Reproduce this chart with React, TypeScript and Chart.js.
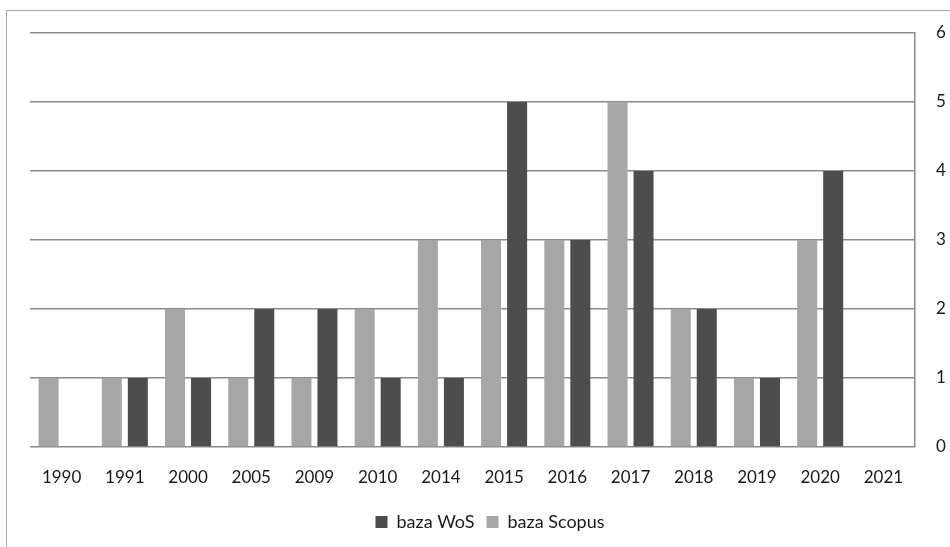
import React, { useEffect, useRef } from "react";
import { Chart, registerables } from "chart.js";

Chart.register(...registerables);

const years = ["1990", "1991", "2000", "2005", "2009", "2010", "2014", "2015", "2016", "2017", "2018", "2019", "2020", "2021"];
const scopus = [1, 1, 2, 1, 1, 2, 3, 3, 3, 5, 2, 1, 3, 0];
const wos = [0, 1, 1, 2, 2, 1, 1, 5, 3, 4, 2, 1, 4, 0];
const yTicks = [0, 1, 2, 3, 4, 5, 6];

const FONT = "Lato, 'Open Sans', sans-serif";
const TEXT = "#1a1a1a";

export default function App() {
  const canvasRef = useRef<HTMLCanvasElement | null>(null);

  useEffect(() => {
    document.body.style.margin = "0";
    const canvas = canvasRef.current;
    if (!canvas) return;
    const chart = new Chart(canvas, {
      type: "bar",
      data: {
        labels: years,
        datasets: [
          {
            label: "baza Scopus",
            data: scopus,
            backgroundColor: "#a6a6a6",
            categoryPercentage: 0.823,
            barPercentage: 0.77,
          },
          {
            label: "baza WoS",
            data: wos,
            backgroundColor: "#4d4d4d",
            categoryPercentage: 0.823,
            barPercentage: 0.77,
          },
        ],
      },
      options: {
        animation: false,
        responsive: false,
        maintainAspectRatio: false,
        layout: { padding: { left: 30, top: 33, right: 0, bottom: 6 } },
        plugins: {
          tooltip: { enabled: false },
          legend: {
            position: "bottom",
            reverse: true,
            labels: {
              boxWidth: 12,
              boxHeight: 12,
              padding: 12,
              color: TEXT,
              font: { family: FONT, size: 18 },
            },
          },
        },
        scales: {
          x: {
            grid: { display: false, drawTicks: false },
            border: { display: false },
            ticks: { padding: 20, color: TEXT, font: { family: FONT, size: 17 }, maxRotation: 0 },
            afterFit: (s: any) => {
              s.height = 54;
            },
          },
          y: {
            position: "right",
            min: 0,
            max: 6,
            afterBuildTicks: (s: any) => {
              s.ticks = yTicks.map((v) => ({ value: v }));
            },
            grid: { color: "#8a8a8a", lineWidth: 1.5, drawTicks: false },
            border: { display: true, color: "#8a8a8a", width: 1.5 },
            ticks: { padding: 21, color: TEXT, font: { family: FONT, size: 17 } },
            afterFit: (s: any) => {
              s.width = 35;
            },
          },
        },
      },
    });
    return () => chart.destroy();
  }, []);

  return (
    <div style={{ position: "relative", width: 950, height: 547, overflow: "hidden", background: "#fff" }}>
      <div
        style={{
          position: "absolute",
          left: 6,
          top: 10,
          width: 980,
          height: 580,
          border: "1.5px solid #a8a8a8",
          boxSizing: "border-box",
        }}
      />
      <canvas ref={canvasRef} width={950} height={547} style={{ position: "absolute", left: 0, top: 0 }} />
    </div>
  );
}
